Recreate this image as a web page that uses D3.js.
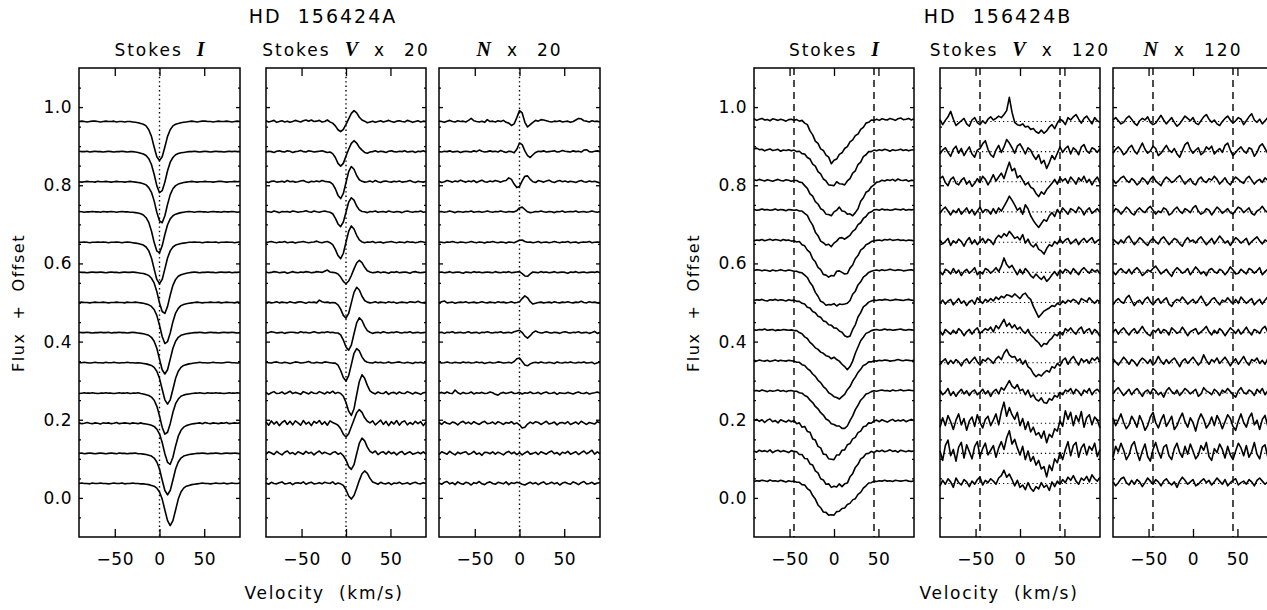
<!DOCTYPE html>
<html>
<head>
<meta charset="utf-8">
<script src="https://cdn.jsdelivr.net/npm/d3@7"></script>
<style>
  body { margin: 0; background: #fff; }
  svg { display: block; }
  text { font-family: "DejaVu Sans", sans-serif; fill: #000; white-space: pre; }
</style>
</head>
<body>
<div id="chart-container"></div>
<script>
// LSD profiles of HD 156424 A and B, values in units of 0.001 relative to each offset

var velocity = [-90,-87,-84,-81,-78,-75,-72,-69,-66,-63,-60,-57,-54,-51,-48,-45,-42,-39,-36,-33,-30,-27,-24,-21,-18,-15,-12,-9,-6,-3,0,3,6,9,12,15,18,21,24,27,30,33,36,39,42,45,48,51,54,57,60,63,66,69,72,75,78,81,84,87,90];

var offsets = [0.963,0.886,0.809,0.732,0.654,0.577,0.500,0.423,0.346,0.268,0.191,0.114,0.037];
var offsetsBI = [0.967,0.889,0.812,0.737,0.658,0.581,0.505,0.429,0.350,0.273,0.195,0.118,0.042];

var velTicks = [-50, 0, 50];
var fluxTicks = [0, 0.2, 0.4, 0.6, 0.8, 1.0];
var vsiniB = [-45, 45];

var aStokesI = [
[0,1,0,-1,0,1,1,0,-1,0, 1,0,0,1,-1,0,0,-1,0,0, -1,-2,-3,-5,-7,-11,-21,-38,-65,-90, -100,-90,-65,-38,-21,-11,-7,-5,-3,-2, -1,0,1,0,-1,0,1,1,0,0, -1,0,1,0,0,1,0,-1,0,1,0],
[1,0,0,1,-1,0,1,0,0,-1, 0,1,0,-1,0,0,1,0,-1,0, 0,-1,-2,-4,-6,-10,-18,-33,-58,-87, -105,-100,-78,-49,-27,-15,-8,-5,-3,-2, -1,0,0,1,0,-1,0,1,0,-1, 0,1,0,0,-1,0,1,0,1,0,0],
[0,-1,0,1,0,0,-1,1,0,0, 1,0,-1,0,1,0,0,-1,0,1, 0,-1,-2,-3,-5,-8,-15,-27,-49,-78, -100,-105,-87,-58,-33,-18,-10,-6,-4,-2, -1,0,1,0,-1,0,0,1,0,0, -1,0,1,1,0,-1,0,0,1,0,1],
[1,0,-1,0,0,1,0,0,-1,1, 0,0,1,0,-1,0,1,0,0,-1, -1,-2,-3,-5,-8,-15,-27,-49,-78,-100, -105,-87,-58,-33,-18,-10,-6,-4,-2,-1, 0,1,0,-1,0,1,0,0,-1,0, 1,0,0,-1,1,0,0,1,0,-1,0],
[0,0,1,0,-1,0,0,1,0,1, 0,-1,0,0,1,0,-1,0,1,0, -1,-2,-3,-5,-7,-12,-22,-40,-68,-95, -106,-95,-68,-40,-22,-12,-7,-5,-3,-2, -1,0,0,1,0,0,-1,0,1,0, 0,1,-1,0,0,1,0,0,-1,0,1],
[1,0,0,-1,0,1,0,0,1,0, -1,0,1,0,0,-1,0,1,0,0, 1,0,-1,-2,-3,-5,-8,-15,-27,-49, -78,-100,-105,-87,-58,-33,-18,-10,-6,-4, -2,-1,0,1,0,-1,0,0,1,0, 0,-1,0,1,0,0,1,-1,0,0,1],
[0,1,0,0,-1,0,1,0,0,1, 0,-1,0,0,1,0,0,-1,1,0, 0,1,0,-1,-2,-4,-6,-10,-18,-33, -58,-87,-105,-100,-78,-49,-27,-15,-8,-5, -3,-2,-1,0,1,0,-1,0,0,1, 0,0,1,-1,0,1,0,0,-1,1,0],
[1,0,0,1,0,-1,0,0,1,0, 0,1,-1,0,0,1,0,0,-1,0, 1,0,-1,-2,-3,-5,-7,-12,-22,-40, -68,-95,-106,-95,-68,-40,-22,-12,-7,-5, -3,-2,-1,0,0,1,0,-1,0,1, 0,0,-1,0,1,0,0,1,0,-1,0],
[0,0,1,0,-1,0,1,0,0,-1, 1,0,0,1,0,-1,0,0,1,0, 0,-1,0,-1,-2,-3,-5,-7,-12,-22, -40,-68,-95,-106,-95,-68,-40,-22,-12,-7, -5,-3,-2,-1,0,1,0,0,-1,0, 1,0,0,-1,0,1,1,0,0,-1,0],
[-1,0,1,0,0,1,0,-1,0,0, 1,0,0,-1,0,1,0,0,1,-1, 0,0,1,-1,-2,-4,-6,-10,-18,-33, -58,-87,-105,-100,-78,-49,-27,-15,-8,-5, -3,-2,-1,0,0,1,0,-1,1,0, 0,1,0,0,-1,0,1,0,0,1,0],
[1,-1,0,2,0,-1,1,0,-2,1, 0,1,-1,0,2,-1,0,1,0,-1, 1,0,-1,1,-1,-2,-3,-5,-8,-15, -27,-49,-78,-100,-105,-87,-58,-33,-18,-10, -6,-4,-2,-1,0,1,-1,2,0,-1, 1,0,-1,1,0,2,-1,0,1,0,1],
[0,1,-1,0,1,0,-1,0,1,0, -1,0,1,0,-1,1,0,0,-1,0, 0,1,-1,-1,-2,-3,-5,-7,-12,-22, -40,-68,-95,-106,-95,-68,-40,-22,-12,-7, -5,-3,-2,-1,0,0,1,0,-1,0, 0,1,0,-1,0,1,0,0,1,0,-1],
[0,1,0,0,-1,1,0,0,1,0, 0,-1,0,1,0,0,1,-1,0,0, 1,0,0,-1,-1,-2,-3,-5,-7,-12, -22,-40,-68,-95,-108,-95,-68,-40,-22,-12, -7,-5,-3,-2,-1,0,1,0,0,-1, 0,1,0,0,1,-1,0,1,0,0,1]
];

var aStokesV = [
[2,-1,1,3,-2,0,2,-1,1,-2, 0,3,1,-1,2,4,1,4,0,1, 3,-1,0,4,-1,-4,-11,-21,-26,-20, -7,7,21,28,22,11,4,1,-3,-1, 1,-2,0,2,-1,1,3,0,-2,1, 2,0,-1,3,1,-2,0,2,-1,1,0],
[-1,1,0,-2,1,2,0,-1,2,1, -2,0,1,3,0,-1,2,1,-1,0, 1,2,0,-2,-1,-5,-15,-30,-37,-30, -11,6,21,28,22,11,4,-2,-4,-1, 0,2,-1,1,0,-2,1,2,0,-1, 1,0,2,-1,0,1,-2,1,0,2,-1],
[0,-2,1,2,-1,0,1,-1,3,0, 1,-1,0,2,3,0,-2,1,0,2, 0,3,1,0,-1,-6,-18,-35,-43,-30, -2,26,39,32,16,5,1,-1,0,2, -1,3,0,-2,1,2,0,-1,1,0, 2,-1,0,1,3,0,-2,1,0,-1,1],
[1,0,-1,2,0,-2,1,0,1,-1, 2,1,-1,0,1,3,0,-1,2,0, -1,1,2,0,-1,-5,-16,-31,-38,-26, -1,25,36,30,15,5,1,0,-2,1, 0,2,-1,0,1,-1,2,0,-1,1, 0,-2,1,2,0,-1,1,0,2,-1,0],
[-1,1,2,0,-1,1,0,2,-1,0, 1,-2,0,1,2,0,-1,0,1,3, 0,-1,1,2,-1,-6,-18,-34,-42,-28, 0,28,42,34,18,6,1,-1,1,0, 2,-1,0,1,-2,0,1,2,0,-1, 1,0,-1,2,0,1,-1,0,2,1,-1],
[1,-1,0,2,1,-1,0,1,-2,0, 2,0,-1,1,0,2,1,-1,0,2, 1,0,3,6,1,0,-1,-4,-12,-23, -29,-22,-8,9,24,31,25,13,4,1, -1,0,2,-1,1,0,-2,1,0,2, -1,0,1,0,-2,1,2,0,-1,0,1],
[0,1,-1,0,2,-1,1,0,-1,2, 0,-1,1,2,0,-2,1,0,1,-1, 6,2,0,1,-1,0,-1,-6,-17,-33, -40,-28,-1,26,39,32,16,5,1,-1, 0,2,-1,1,0,-1,2,0,1,-2, 0,1,0,-1,2,1,0,3,0,-1,1],
[-1,0,2,1,-1,0,1,-2,0,1, 1,0,-1,2,0,1,-1,0,2,0, -1,1,0,2,0,1,-1,-1,-6,-19, -37,-45,-32,-3,25,38,31,16,5,1, -2,0,1,-1,2,0,-1,1,0,2, 0,-1,1,0,2,-1,0,1,-1,0,1],
[1,0,-1,1,2,0,-1,1,0,-2, 0,2,1,-1,0,1,3,0,-1,1, 0,-1,2,1,0,-1,-1,-6,-20,-38, -47,-33,-5,24,36,30,15,5,1,0, -1,2,0,1,-1,0,2,-1,0,1, 2,0,-1,1,0,-2,1,0,1,-1,0],
[2,-3,1,4,-1,0,3,-2,1,5, -1,2,0,-3,4,1,-2,3,0,-1, 4,1,-2,3,0,5,-1,2,-1,-8, -24,-46,-57,-40,-4,30,47,38,20,6, 1,-2,3,0,-1,4,-3,1,2,-2, 3,0,-1,4,1,-2,2,0,-3,1,2],
[3,-5,6,-2,4,-6,2,7,-3,5, -4,6,1,-5,7,-2,3,-6,5,0, 7,-3,4,-5,6,2,-1,-5,-14,-28, -35,-27,-9,9,27,35,28,14,5,1, 6,-4,2,8,-3,5,-6,4,-2,7, -5,3,6,-4,2,-3,5,-1,4,-6,3],
[-2,4,1,-3,5,0,-4,3,6,-1, 2,-3,4,1,-2,5,0,3,-4,2, 6,-1,3,0,-3,2,4,-2,1,-6, -17,-34,-41,-29,-1,26,39,32,16,5, 1,6,-3,2,4,-2,5,-1,3,-4, 2,5,-3,1,4,-2,0,3,-1,4,-2],
[1,-2,3,0,-1,2,4,-1,0,2, -3,1,2,0,4,-2,1,3,-1,0, 2,-1,3,1,0,4,-2,1,-1,-5, -16,-32,-40,-31,-12,8,25,32,26,13, 4,1,-2,3,0,-1,2,-3,1,0, 3,-1,0,2,-2,1,3,0,-1,2,0]
];

var aNull = [
[1,0,-2,1,3,0,-1,2,0,1, -1,3,8,2,0,-1,1,-2,5,0, 1,-1,2,0,3,-2,-4,-10,-6,10, 28,22,-2,-14,-8,-2,3,1,5,4, 2,0,-1,1,0,2,-1,0,1,-2, 0,4,8,7,2,1,-1,2,0,1,-1],
[0,-1,1,0,2,-1,0,1,-2,0, 1,0,-1,2,0,4,1,-1,0,2, 0,1,-1,3,0,-2,1,0,-3,6, 22,18,2,-10,-15,-8,-2,1,0,2, -1,0,1,2,-1,0,3,1,0,-1, 2,0,1,-1,4,5,0,-1,1,2,0],
[1,-2,0,3,1,-1,2,0,4,1, -1,2,0,3,-2,1,4,0,-1,2, 0,3,1,-1,2,3,10,6,-6,-15, -12,2,14,15,6,0,-2,3,1,-1, 2,4,0,-2,1,3,0,2,-1,1, 0,-2,1,3,0,-1,2,0,1,-1,-3],
[0,1,-1,0,2,0,-2,1,0,-1, 1,0,2,-1,0,1,-1,0,2,0, -1,1,0,2,0,-1,1,0,0,3, 10,12,6,0,-2,-1,1,0,2,0, -1,1,0,-2,1,0,2,-1,0,1, 0,2,-1,0,1,-1,0,2,0,-1,1],
[1,0,-1,1,0,2,0,-1,1,0, -1,0,2,0,-1,1,0,-2,1,0, 2,0,-1,1,0,-2,1,0,-1,2, 5,6,2,0,1,-1,0,2,-1,0, 1,-1,0,2,0,-1,1,0,2,-1, 0,1,-2,0,1,0,2,-1,0,1,0],
[0,1,-1,0,2,-1,0,1,0,-2, 1,0,-1,2,0,1,-1,0,1,0, -1,2,0,-1,1,0,2,-1,0,1, 2,-3,-9,-10,-4,1,0,-1,2,0, 1,-1,0,2,-1,0,1,0,-2,1, 0,2,-1,0,1,-1,0,1,0,2,-1],
[-1,2,4,-1,0,1,-2,0,1,0, 2,-1,0,1,-1,0,2,0,-1,1, 0,-1,2,0,1,-1,0,2,-1,0, 2,10,17,12,2,-4,-2,0,1,-1, 0,1,-1,2,0,-1,1,0,2,0, -1,1,0,3,0,-1,2,0,1,-1,0],
[0,1,-2,1,0,2,-1,0,1,-1, 0,2,-1,0,1,-2,1,0,2,0, -1,1,0,2,-1,0,1,-1,2,4, 6,0,-9,-14,-8,0,4,1,-1,0, 2,0,-1,1,0,-2,1,2,0,-1, 1,0,2,-1,0,1,-2,0,3,-2,0],
[1,-1,0,2,0,-1,1,0,-1,2, 0,1,-1,0,2,0,1,-2,0,1, -1,0,2,1,-1,0,1,-1,3,10, 12,3,-6,-8,-3,0,1,-1,2,0, -1,1,0,-2,2,0,-1,1,0,2, 0,-1,1,0,2,-1,0,1,-3,0,1],
[0,2,-1,3,0,-1,8,1,-2,2, -1,0,3,-2,1,0,2,-1,0,3, 1,-3,-5,0,2,-1,1,3,-1,0, 2,-2,1,0,3,-1,0,2,-2,1, 3,-1,0,2,-3,1,0,-1,2,0, -2,1,3,0,-1,2,-2,0,1,3,0],
[2,-3,4,0,-2,3,1,-4,2,5, -1,3,-2,4,0,-3,2,5,-1,0, 3,-2,4,1,-3,2,0,4,-2,1, -4,-12,-10,-2,3,-1,4,2,-3,1, 5,-2,0,3,-4,1,2,-1,4,-3, 0,3,-2,5,1,-3,2,0,-2,4,1],
[-3,4,1,-2,5,0,-4,3,-1,2, 4,-3,0,5,-2,1,-5,3,2,-1, 4,-2,3,0,-4,2,5,-1,3,-3, 2,-4,1,5,-2,0,3,-3,4,1, -2,3,6,-1,2,-4,3,0,5,-2, 1,4,-3,2,6,-1,3,8,-2,4,-1],
[1,-2,3,5,-1,2,-3,4,0,-2, 3,1,-4,2,0,5,-1,-3,2,4, 0,-2,3,1,-1,4,-3,2,0,3, 1,-2,-4,0,3,-1,2,-3,1,4, -2,0,3,-1,2,-4,1,3,0,-2, 4,1,-3,2,5,-1,0,3,-2,1,2]
];

var bStokesI = [
[3,-1,2,4,0,1,-2,3,1,-1,2,0,-3,1,2,-1, 1,-3,-1,-8,-12,-28,-38,-54,-60,-74,-78,-90,-95,-112,-103,-100,-88,-84,-73,-68,-56,-51,-40,-36,-24,-19,-8,-6,0,-1, 2,-1,3,1,0,4,2,-1,3,5,1,2,4,0,3],
[4,6,2,3,-1,2,4,0,1,3,-2,1,0,2,-1,1, -3,-2,-8,-9,-18,-22,-35,-40,-54,-60,-73,-78,-88,-89,-90,-80,-85,-86,-88,-78,-72,-58,-52,-36,-30,-16,-11,-3,-3,1, -1,2,0,3,1,-2,2,0,1,3,0,2,-1,1,2],
[2,0,3,1,-1,2,0,-2,1,3,0,-1,2,1,-2,0, 0,-4,-5,-13,-20,-34,-40,-54,-60,-72,-76,-86,-87,-90,-80,-76,-68,-78,-79,-86,-85,-90,-82,-72,-53,-44,-30,-26,-16,-11, -4,-3,1,-1,2,0,3,-1,4,1,0,2,-2,1,0],
[1,-1,0,2,0,1,-1,0,2,-1,1,0,-2,1,0,-1, 0,-3,-3,-9,-14,-28,-39,-57,-66,-80,-84,-90,-88,-94,-85,-80,-72,-71,-75,-70,-65,-55,-50,-38,-33,-22,-17,-8,-5,0, 1,-1,2,0,1,-1,0,2,1,0,2,-1,1,0,1],
[0,2,1,3,0,2,4,1,3,2,0,3,1,2,-1,0, -3,-2,-10,-13,-24,-30,-46,-54,-68,-74,-86,-88,-93,-89,-90,-78,-77,-81,-85,-84,-70,-62,-46,-38,-24,-19,-10,-7,-2,0, 1,2,0,3,2,4,1,2,3,1,2,0,2,1,0],
[1,3,2,0,2,1,-1,2,0,1,3,1,0,2,1,-1, -1,-4,-5,-11,-17,-30,-39,-55,-65,-78,-81,-88,-86,-87,-84,-90,-85,-86,-85,-83,-76,-60,-52,-36,-28,-16,-11,-4,-1,1, 2,0,3,1,2,4,2,1,3,2,0,1,2,3,1],
[0,2,1,3,0,-1,2,1,3,0,2,1,-1,2,0,1, -2,-2,-7,-9,-17,-19,-28,-31,-40,-43,-52,-54,-62,-63,-70,-71,-78,-81,-90,-93,-91,-74,-62,-42,-31,-16,-11,-4,-1,1, 0,2,1,3,2,0,1,3,2,1,0,2,3,1,0],
[1,0,2,1,3,0,1,2,-1,1,0,2,1,0,1,-1, -1,-6,-9,-17,-21,-31,-37,-45,-49,-56,-59,-65,-67,-73,-69,-75,-79,-87,-93,-101,-93,-79,-59,-43,-27,-18,-8,-5,-1,1, 2,0,1,3,1,2,0,1,2,3,1,0,2,1,0],
[2,0,3,1,0,2,-1,1,3,0,2,1,0,2,1,0, -3,-3,-9,-11,-19,-24,-33,-39,-49,-55,-65,-71,-81,-85,-91,-93,-97,-91,-85,-73,-65,-51,-41,-29,-21,-11,-8,-2,-2,1, 0,2,1,3,2,0,1,2,4,2,1,3,2,1,2],
[1,2,0,3,1,-1,2,0,1,3,0,2,-1,1,2,0, 0,-4,-5,-11,-14,-23,-29,-39,-45,-55,-61,-71,-75,-83,-85,-89,-89,-95,-95,-89,-75,-63,-47,-36,-23,-16,-7,-5,-1,1, 0,2,3,1,2,0,3,1,2,4,1,2,3,2,1],
[3,6,1,5,-2,4,7,0,3,-3,5,2,-1,4,0,3, -5,-3,-14,-12,-25,-27,-44,-47,-63,-67,-83,-84,-95,-96,-97,-85,-85,-73,-72,-59,-56,-44,-40,-28,-24,-13,-11,-3,-4,2, 4,0,5,2,-1,3,6,1,4,2,5,0,3,6,2],
[2,-1,4,1,3,0,5,-2,2,4,0,3,1,-2,3,1, 0,-7,-7,-17,-18,-31,-34,-49,-54,-69,-72,-83,-82,-91,-88,-90,-82,-89,-82,-80,-64,-56,-40,-32,-18,-14,-5,-4,1,-2, 3,1,4,0,2,5,1,3,-1,4,2,0,3,1,2],
[0,2,1,3,2,0,4,1,2,0,3,1,-1,2,0,1, -2,-2,-8,-9,-18,-23,-36,-45,-60,-67,-78,-79,-86,-85,-86,-77,-76,-69,-68,-59,-56,-47,-44,-33,-28,-17,-11,-4,-3,1, 0,2,1,3,1,2,0,3,2,1,2,3,1,0,2]
];

var bStokesV = [
[5,-8,3,12,26,6,-10,-4,2,8, -6,-12,4,10,-3,-8,2,-5,6,12, 4,8,14,10,18,28,62,24,-2,-8, -10,-6,-14,-12,-20,-18,-26,-30,-22,-30, -24,-14,-8,-18,-4,6,2,-8,10,4, 12,18,6,-4,8,14,4,-6,10,2,-2],
[-6,4,10,-2,-12,6,14,-4,8,-10, 2,12,-6,-14,4,8,20,28,6,-8, -14,4,16,-2,12,31,22,10,-4,14, 20,8,-6,10,4,-10,-20,-8,-30,-22, -43,-28,-10,-20,-4,12,-2,8,14,-6, 10,4,-8,12,18,2,-4,10,6,-2,8],
[8,14,-2,-10,6,12,-4,-8,4,10, -6,2,-12,-4,8,-2,14,6,-8,4, 18,2,12,22,8,30,50,28,34,10, 16,4,-8,-2,-14,-18,-30,-38,-26,-32, -20,-12,-4,6,-6,10,2,8,-4,12, 4,-6,10,2,14,-2,6,-8,4,12,-4],
[-4,6,12,2,-8,4,-2,8,-6,2, 10,-4,6,-8,2,12,-2,6,4,-6, 8,-4,10,2,14,26,40,30,18,4, 10,-6,18,8,-10,-22,-32,-40,-30,-20, -24,-10,-2,-12,6,-4,10,2,-6,8, 4,-2,12,6,-8,4,10,-4,2,8,-2],
[6,-4,2,10,-8,4,-2,8,2,-10, 4,12,-4,6,-6,2,10,-2,8,4, -6,10,18,12,22,16,28,20,10,14, 6,20,-2,8,-6,-12,-4,-18,-22,-30, -16,-6,-10,2,-4,8,-2,6,10,-4, 2,8,-6,4,10,0,6,12,-2,4,8],
[2,-6,8,4,-4,10,-2,6,-8,2, 8,-2,4,12,-6,2,-4,10,6,-2, 4,12,2,16,37,20,12,18,6,-6, 8,-4,10,2,-8,-14,-4,-12,-18,-10, -23,-16,-6,2,-8,6,-2,8,4,-4, 10,2,-6,6,12,4,-2,8,2,6,-4],
[-2,6,-4,4,8,-6,2,10,-2,4, -8,2,6,-4,12,4,-2,8,2,10, 4,14,8,16,12,20,18,14,22,16, 10,20,24,14,8,-10,-24,-38,-30,-22, -18,-14,-8,-10,-2,-6,4,-2,6,2, 8,4,-4,10,6,2,12,4,-2,6,2],
[4,-6,8,2,-4,6,-2,10,4,-8, 2,8,-4,6,12,-2,4,10,6,14, 2,18,10,22,34,16,24,12,20,8, 14,4,-2,8,-6,-12,-20,-26,-36,-28, -30,-20,-14,-4,-8,2,-6,10,4,12, 2,-4,8,14,-2,6,10,-4,8,2,-10],
[-6,4,10,-4,6,-2,8,2,-8,4, 10,-2,6,14,2,-6,8,4,12,6, -2,10,16,8,24,34,20,14,16,4, 10,-4,6,-10,-16,-28,-36,-30,-34,-26, -20,-24,-10,-14,-2,-8,6,12,-4,8, 16,4,-6,10,2,8,-2,12,6,14,2],
[8,-4,2,12,-6,4,-8,2,10,-2, 6,-6,4,8,-4,2,10,-2,6,-8, 4,10,-2,14,8,20,32,18,12,22, 6,10,-4,8,-10,-4,-16,-20,-12,-24, -26,-14,-18,-6,-10,2,-4,8,4,12, -2,10,4,-6,8,2,12,-4,6,10,2],
[-10,14,-6,20,4,-16,8,24,-4,12, -18,6,16,-8,22,2,-12,10,18,-6, 8,24,-4,30,54,18,40,22,10,28, -6,12,-16,4,-22,-10,-30,-24,-38,-20, -50,-28,-36,-14,-20,6,-8,32,10,28, -6,20,4,30,-10,14,22,-4,16,8,-12],
[6,-18,20,34,-6,10,-20,16,28,-12, 22,4,-14,18,30,-8,12,26,-4,8, 20,-10,14,30,10,40,58,24,36,14, -4,18,-16,6,-20,-8,-30,-18,-40,-34, -60,-30,-44,-14,-24,2,-16,10,30,-6, 20,28,-10,14,24,-4,18,8,26,-8,10],
[-6,8,-2,12,4,-10,14,2,-4,10, 4,-8,6,-2,10,16,-4,8,2,12, 6,-2,14,20,34,16,24,10,-6,8, -10,-4,-16,2,-12,-20,-8,-14,2,-10, -4,-18,4,-8,6,-2,10,2,16,8, 20,6,-2,14,8,18,4,22,12,6,16]
];

var bNull = [
[4,10,2,-6,-2,8,14,6,-4,-10, 2,8,4,12,-2,-8,-4,6,16,4, -6,2,10,-2,-12,-6,4,14,8,2, 10,-4,-8,2,12,18,6,-2,4,-6, -10,0,8,14,4,-4,2,10,6,-8, 2,12,20,4,-2,6,-6,2,10,4,0],
[-4,6,12,4,-8,-2,10,16,2,-6, 8,22,6,-4,2,14,8,-10,-4,6, 16,4,-2,8,-6,-14,2,18,24,6, -4,4,10,-8,-2,12,6,14,-6,2, 8,-2,16,22,4,-10,-2,6,12,2, -4,10,6,-12,-2,14,20,8,-4,6,10],
[6,-4,2,10,14,4,-2,8,2,-8, -2,10,4,-6,6,14,2,-4,-10,4, 12,6,-2,2,10,16,4,-6,2,8, -4,-8,6,12,2,-2,8,4,14,6, -6,2,10,-2,-8,4,12,6,0,-4, 8,14,4,-6,2,6,-2,10,4,8,-2],
[-2,8,4,-6,2,12,6,-4,-8,4, 10,2,-2,8,14,4,-6,2,-2,10, 6,-8,-4,6,12,2,-4,8,4,-2, 10,16,2,-6,-2,8,4,-8,2,12, 6,-4,2,8,-2,-6,4,12,8,-2, 4,10,-4,-8,2,6,14,4,-2,6,2],
[8,2,-4,6,-2,10,16,4,-6,2, 12,6,-2,-8,4,10,2,-4,8,14, 4,-6,2,10,6,-4,-10,4,12,2, 6,-2,8,14,4,-6,2,10,-4,6, 16,8,-2,4,-8,2,12,6,-2,4, 10,-6,2,8,14,4,-4,6,2,12,4],
[2,-6,4,10,2,-2,8,-4,6,12, 4,-8,-2,6,2,10,16,6,-4,2, 8,-2,-10,4,12,6,-2,2,10,-6, 4,14,6,-4,2,-8,6,10,2,-2, 8,4,-6,2,14,6,-4,-2,8,2, -4,10,6,-2,4,12,-6,2,8,-2,4],
[-6,4,10,2,-2,12,18,4,-8,2, 6,-4,8,14,2,-6,4,10,-2,6, 12,-4,-10,2,8,4,14,6,-4,2, 8,-2,6,16,4,-8,-2,8,12,2, -6,6,2,12,4,-4,8,-2,14,6, -2,4,10,-6,2,8,-4,6,14,2,6],
[2,8,-4,6,12,2,-6,4,10,-2, 6,16,4,-4,-8,6,2,10,-2,8, 4,-6,12,6,-2,2,14,4,-8,2, 6,10,-4,2,8,16,2,-6,6,-2, 10,4,-8,2,12,6,-2,8,-4,4, 14,2,-6,8,4,-2,10,16,2,-4,6],
[10,2,-6,4,14,6,-4,8,2,-8, 4,12,6,-2,8,-6,2,16,4,-4, 8,-2,6,12,2,-10,4,10,-2,6, 14,4,-6,2,20,6,-4,8,2,12, -2,6,14,4,-8,2,10,-4,6,16, 2,-6,8,4,12,-2,6,-4,10,4,8],
[-2,8,14,4,-6,2,10,-4,6,12, 2,-8,4,8,-2,12,6,-4,2,-10, 6,14,4,-2,8,-6,2,12,6,-2, 4,10,-8,-2,14,6,2,-4,10,4, -6,8,2,12,4,-4,-10,6,14,2, -2,8,4,-6,10,2,12,-4,6,2,8],
[14,-6,8,24,2,-14,-4,18,6,-10, 20,4,-18,-6,16,28,2,-12,8,22, -8,4,18,-16,-6,12,26,4,-10,14, 2,-20,8,24,10,-12,-2,16,-6,20, 6,-14,4,22,12,-8,-18,6,24,2, -10,14,26,-4,8,-16,10,20,-6,4,12],
[-10,18,4,26,8,-16,-4,20,30,2, -18,6,24,-8,-20,10,28,4,-12,16, 22,-6,-16,12,26,2,-10,18,-2,24, 6,-14,-4,20,8,28,-8,-18,12,2, 24,10,-12,18,-4,-16,6,26,14,-6, 20,-10,4,28,-2,-14,16,22,-8,10,2],
[4,-6,2,12,16,2,-4,8,-2,10, 4,-8,2,14,6,-2,10,4,-6,6, 12,2,-4,4,-10,6,16,8,-2,4, 10,-6,-2,6,12,2,8,-4,4,14, 6,-2,10,-6,2,8,12,-4,2,6, -2,10,4,-6,8,14,6,-2,4,8,0]
];

// figure layout
var figures = [
  { star: 'HD  156424A', shift: 0,
    panels: [
      { x0: 79,  x1: 240, title: ['Stokes', 'I', '', ''],   data: aStokesI, base: offsets, labels: true },
      { x0: 266, x1: 426, title: ['Stokes', 'V', 'x', '20'], data: aStokesV, base: offsets },
      { x0: 439, x1: 600, title: ['', 'N', 'x', '20'],       data: aNull,    base: offsets }
    ], marks: [0], dashed: false, zeroLines: false },
  { star: 'HD  156424B', shift: 675,
    panels: [
      { x0: 79,  x1: 239, title: ['Stokes', 'I', '', ''],    data: bStokesI, base: offsetsBI, labels: true, noZero: true },
      { x0: 265, x1: 425, title: ['Stokes', 'V', 'x', '120'], data: bStokesV, base: offsets },
      { x0: 438, x1: 598, title: ['', 'N', 'x', '120'],       data: bNull,    base: offsets }
    ], marks: vsiniB, dashed: true, zeroLines: true }
];

var W = 1267, H = 610;
var svg = d3.select('#chart-container').append('svg')
    .attr('width', W).attr('height', H);

var y = d3.scaleLinear().domain([-0.1, 1.1]).range([537, 68]);
var minorTicks = d3.range(-1, 22).filter(k => k % 4 !== 0).map(k => k * 0.05);

function styleAxis(g) {
    g.select('.domain').remove();
    g.selectAll('.tick line').attr('stroke', '#000').attr('stroke-width', 1.3);
    g.attr('font-family', '"DejaVu Sans", sans-serif').attr('font-size', 17);
    g.selectAll('.tick text').attr('fill', '#000').attr('letter-spacing', '0.5px');
}

function drawPanel(fig, p) {
    var x0 = p.x0 + fig.shift, x1 = p.x1 + fig.shift;
    var x = d3.scaleLinear().domain([-90, 90]).range([x0, x1]);
    var g = svg.append('g');

    // guides
    if (fig.zeroLines && !p.noZero) {
        g.append('g').selectAll('line').data(p.base).join('line')
            .attr('x1', x0).attr('x2', x1)
            .attr('y1', d => y(d)).attr('y2', d => y(d))
            .attr('stroke', '#000').attr('stroke-width', 1.1)
            .attr('stroke-dasharray', '1.2,3');
    }
    g.append('g').selectAll('line').data(fig.marks).join('line')
        .attr('x1', d => x(d)).attr('x2', d => x(d))
        .attr('y1', y(1.1)).attr('y2', y(-0.1))
        .attr('stroke', '#000')
        .attr('stroke-width', 1.4)
        .attr('stroke-dasharray', fig.dashed ? '7,5' : '1.4,3');

    // profiles
    g.append('g').selectAll('path').data(p.data).join('path')
        .attr('fill', 'none').attr('stroke', '#000').attr('stroke-width', 1.6)
        .attr('stroke-linejoin', 'round')
        .attr('d', (d, k) => d3.line()
            .x((v, i) => x(velocity[i]))
            .y(v => y(p.base[k] + v / 1000))(d));

    // frame
    g.append('rect')
        .attr('x', x0).attr('y', y(1.1))
        .attr('width', x1 - x0).attr('height', y(-0.1) - y(1.1))
        .attr('fill', 'none').attr('stroke', '#000').attr('stroke-width', 1.5);

    // axes
    g.append('g').attr('transform', `translate(0,${y(-0.1)})`)
        .call(d3.axisBottom(x).tickValues(velTicks).tickSize(-8).tickPadding(16)
            .tickFormat(d => d < 0 ? '\u2212' + Math.abs(d) : String(d)))
        .call(styleAxis);
    g.append('g').attr('transform', `translate(0,${y(1.1)})`)
        .call(d3.axisTop(x).tickValues(velTicks).tickSize(-8).tickFormat(''))
        .call(styleAxis);
    g.append('g').attr('transform', `translate(${x0},0)`)
        .call(d3.axisLeft(y).tickValues(fluxTicks).tickSize(-4).tickPadding(7)
            .tickFormat(p.labels ? d3.format('.1f') : ''))
        .call(styleAxis);
    g.append('g').attr('transform', `translate(${x0},0)`)
        .call(d3.axisLeft(y).tickValues(minorTicks).tickSize(-2).tickFormat(''))
        .call(styleAxis);
    g.append('g').attr('transform', `translate(${x1},0)`)
        .call(d3.axisRight(y).tickValues(fluxTicks).tickSize(-4).tickFormat(''))
        .call(styleAxis);
    g.append('g').attr('transform', `translate(${x1},0)`)
        .call(d3.axisRight(y).tickValues(minorTicks).tickSize(-2).tickFormat(''))
        .call(styleAxis);

    // panel title
    var t = g.append('text')
        .attr('x', (x0 + x1) / 2).attr('y', 56)
        .attr('text-anchor', 'middle')
        .attr('font-size', 17).attr('letter-spacing', '2px');
    if (p.title[0]) t.append('tspan').text(p.title[0]);
    t.append('tspan')
        .attr('dx', p.title[0] ? 14 : 0)
        .attr('font-family', '"Liberation Serif", serif')
        .attr('font-style', 'italic').attr('font-weight', 'bold')
        .attr('font-size', 20).attr('letter-spacing', '0px')
        .text(p.title[1]);
    if (p.title[2]) {
        t.append('tspan').attr('dx', 16).text(p.title[2]);
        t.append('tspan').attr('dx', 18).text(p.title[3]);
    }
}

figures.forEach(fig => {
    fig.panels.forEach(p => drawPanel(fig, p));

    svg.append('text')
        .attr('x', 323 + fig.shift).attr('y', 23)
        .attr('text-anchor', 'middle')
        .attr('font-size', 19).attr('letter-spacing', '2px')
        .text(fig.star);

    svg.append('text')
        .attr('x', 324 + fig.shift).attr('y', 599)
        .attr('text-anchor', 'middle')
        .attr('font-size', 17).attr('letter-spacing', '1.7px')
        .text('Velocity  (km/s)');

    svg.append('text')
        .attr('transform', `translate(${24 + fig.shift},303) rotate(-90)`)
        .attr('text-anchor', 'middle')
        .attr('font-size', 16).attr('letter-spacing', '1.5px')
        .text('Flux  +  Offset');
});
</script>
</body>
</html>
